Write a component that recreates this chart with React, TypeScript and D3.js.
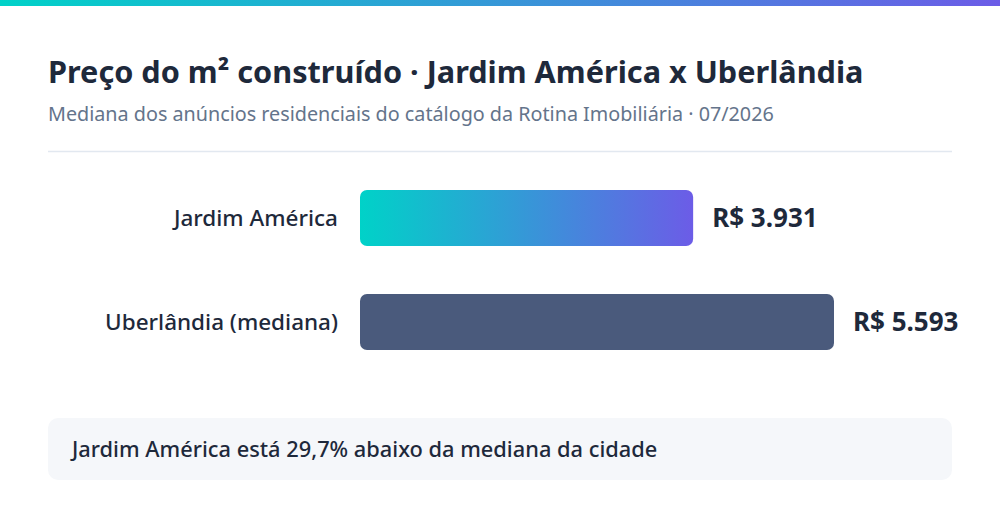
import * as d3 from "d3";
import { useEffect, useRef } from "react";

const categories = ["Jardim América", "Uberlândia (mediana)"];
const values = [3931, 5593];
const valueLabels = ["R$ 3.931", "R$ 5.593"];
const title = "Preço do m² construído · Jardim América x Uberlândia";
const subtitle = "Mediana dos anúncios residenciais do catálogo da Rotina Imobiliária · 07/2026";
const note = "Jardim América está 29,7% abaixo da mediana da cidade";

const W = 1000;
const H = 520;
const FONT = "'Noto Sans', 'Open Sans', sans-serif";

const App = () => {
  const ref = useRef(null);

  useEffect(() => {
    document.body.style.margin = "0";
    const svg = d3.select(ref.current);
    svg.selectAll("*").remove();

    const defs = svg.append("defs");
    const top = defs.append("linearGradient").attr("id", "topGrad");
    top.append("stop").attr("offset", "0%").attr("stop-color", "#00d2c8");
    top.append("stop").attr("offset", "100%").attr("stop-color", "#6c5ce7");
    const barGrad = defs.append("linearGradient").attr("id", "barGrad");
    barGrad.append("stop").attr("offset", "0%").attr("stop-color", "#00d2c8");
    barGrad.append("stop").attr("offset", "100%").attr("stop-color", "#6c5ce7");

    svg.append("rect").attr("width", W).attr("height", H).attr("fill", "#ffffff");
    svg.append("rect").attr("width", W).attr("height", 6).attr("fill", "url(#topGrad)");

    svg.append("text")
      .attr("x", 48).attr("y", 83)
      .attr("font-family", FONT).attr("font-weight", 700).attr("font-size", 30.65)
      .attr("fill", "#1e293b")
      .text(title);

    svg.append("text")
      .attr("x", 48).attr("y", 121)
      .attr("font-family", FONT).attr("font-size", 19.75)
      .attr("fill", "#64748b")
      .text(subtitle);

    svg.append("line")
      .attr("x1", 48).attr("x2", 952).attr("y1", 151.5).attr("y2", 151.5)
      .attr("stroke", "#e2e8f0").attr("stroke-width", 1.5);

    // bars share one linear scale, the city median spans to 834px
    const x = d3.scaleLinear().domain([0, d3.max(values)]).range([360, 834]);
    const y = d3.scaleBand().domain(categories).range([190, 350]).paddingInner(48 / 104);

    const rows = svg.selectAll("g.row")
      .data(categories)
      .enter()
      .append("g")
      .attr("class", "row");

    rows.append("rect")
      .attr("x", x(0))
      .attr("y", d => y(d))
      .attr("width", (d, i) => x(values[i]) - x(0))
      .attr("height", y.bandwidth())
      .attr("rx", 7)
      .attr("fill", (d, i) => i === 0 ? "url(#barGrad)" : "#4a5a7c");

    rows.append("text")
      .attr("x", 338)
      .attr("y", d => y(d) + y.bandwidth() / 2)
      .attr("dy", "0.35em")
      .attr("text-anchor", "end")
      .attr("font-family", FONT).attr("font-weight", 550).attr("font-size", 22.5)
      .attr("fill", "#1e293b")
      .text(d => d);

    rows.append("text")
      .attr("x", (d, i) => x(values[i]) + 19)
      .attr("y", d => y(d) + y.bandwidth() / 2)
      .attr("dy", "0.35em")
      .attr("font-family", FONT).attr("font-weight", 700).attr("font-size", 26)
      .attr("fill", "#1e293b")
      .text((d, i) => valueLabels[i]);

    svg.append("rect")
      .attr("x", 48).attr("y", 418).attr("width", 904).attr("height", 62)
      .attr("rx", 10).attr("fill", "#f5f7fa");

    svg.append("text")
      .attr("x", 72).attr("y", 449)
      .attr("dy", "0.35em")
      .attr("font-family", FONT).attr("font-weight", 550).attr("font-size", 21.8)
      .attr("fill", "#1e293b")
      .text(note);
  }, []);

  return <svg ref={ref} width={W} height={H} style={{ display: "block" }}></svg>;
};

export default App;
